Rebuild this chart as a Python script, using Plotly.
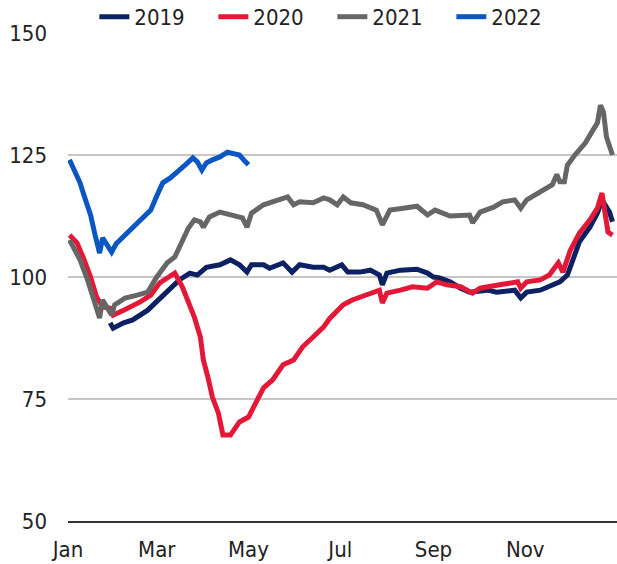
import pandas as pd
import plotly.graph_objects as go

# day-of-year positions and index values
days_2019 = [28, 30, 37, 43, 53, 61, 68, 74, 81, 86, 92, 101, 108, 114, 119, 122, 130, 134, 143, 149, 154, 163, 170, 174, 182, 186, 194, 201, 207, 209, 212, 221, 232, 239, 243, 247, 254, 261, 267, 279, 285, 294, 297, 301, 305, 314, 320, 327, 332, 336, 340, 347, 352, 355, 358, 360, 362]
vals_2019 = [90.6, 89.5, 90.6, 91.2, 93.2, 95.7, 97.7, 99.4, 100.8, 100.4, 102.0, 102.5, 103.5, 102.5, 101.0, 102.5, 102.5, 101.8, 102.9, 101.0, 102.5, 102.0, 102.0, 101.4, 102.5, 101.0, 101.0, 101.4, 100.4, 98.4, 100.8, 101.4, 101.6, 100.8, 100.0, 99.8, 99.0, 97.7, 96.9, 97.3, 96.9, 97.3, 97.3, 95.7, 96.9, 97.3, 98.0, 99.0, 100.4, 104.1, 107.2, 110.2, 113.1, 115.8, 114.3, 113.3, 111.3]

days_2020 = [1, 6, 10, 15, 19, 23, 28, 30, 37, 48, 55, 61, 66, 71, 76, 80, 84, 88, 90, 93, 96, 100, 103, 108, 114, 120, 126, 130, 136, 143, 150, 156, 163, 170, 174, 179, 183, 189, 201, 207, 209, 212, 221, 229, 239, 245, 252, 261, 269, 274, 287, 299, 301, 305, 314, 320, 326, 329, 334, 340, 347, 352, 355, 357, 359, 362]
vals_2020 = [108.6, 107.0, 104.1, 100.0, 95.9, 93.9, 93.6, 92.2, 93.2, 94.9, 96.3, 98.8, 99.8, 100.8, 98.0, 94.7, 91.8, 87.7, 83.0, 79.5, 75.4, 72.1, 67.6, 67.6, 70.3, 71.3, 75.2, 77.3, 78.9, 82.0, 83.0, 85.7, 87.7, 89.8, 91.5, 93.2, 94.3, 95.3, 96.7, 97.3, 94.7, 96.7, 97.3, 98.0, 97.7, 99.0, 98.4, 98.0, 96.7, 97.7, 98.4, 99.0, 97.7, 99.0, 99.4, 100.4, 102.9, 101.0, 105.5, 109.0, 111.7, 114.1, 117.2, 113.1, 109.2, 108.6]

days_2021 = [1, 8, 13, 18, 21, 23, 26, 29, 31, 38, 46, 53, 59, 66, 71, 76, 80, 84, 88, 90, 94, 101, 110, 116, 119, 122, 130, 139, 146, 150, 154, 163, 170, 174, 179, 183, 188, 196, 205, 209, 214, 223, 232, 239, 244, 254, 261, 267, 269, 274, 283, 289, 297, 301, 305, 314, 322, 325, 327, 330, 332, 337, 344, 349, 352, 354, 356, 358, 362]
vals_2021 = [107.6, 103.5, 99.4, 94.7, 91.6, 95.3, 93.6, 92.2, 94.3, 95.7, 96.3, 96.9, 100.0, 102.9, 104.1, 107.2, 110.0, 111.7, 111.3, 110.2, 112.3, 113.3, 112.7, 112.1, 110.2, 113.1, 114.8, 115.8, 116.4, 114.8, 115.4, 115.2, 116.2, 115.8, 114.8, 116.4, 115.2, 114.8, 113.7, 110.7, 113.7, 114.1, 114.5, 112.7, 113.7, 112.5, 112.7, 112.7, 111.1, 113.3, 114.3, 115.4, 115.8, 114.1, 115.8, 117.4, 118.9, 121.0, 119.5, 119.5, 122.9, 125.0, 127.5, 130.1, 131.6, 135.2, 133.8, 128.7, 125.0]

days_2022 = [1, 5, 8, 11, 15, 18, 21, 23, 27, 29, 32, 36, 41, 48, 55, 59, 63, 68, 72, 78, 83, 86, 89, 92, 96, 101, 106, 110, 114, 118, 120]
vals_2022 = [124.0, 121.5, 119.3, 116.4, 112.7, 108.6, 104.9, 108.0, 105.9, 105.1, 106.8, 108.0, 109.6, 111.7, 113.7, 116.6, 119.3, 120.3, 121.3, 123.0, 124.4, 123.6, 121.9, 123.4, 124.0, 124.6, 125.6, 125.2, 125.0, 123.6, 123.0]

series_names = ["2019", "2020", "2021", "2022"]
series_colors = ["#0B2161", "#E31837", "#666666", "#0A56C2"]
y_ticks = [50, 75, 100, 125, 150]

base = pd.Timestamp("2021-01-01")
def to_dates(d):
    return base + pd.to_timedelta(d, unit="D")

FONT = "DejaVu Sans Condensed, Liberation Sans Narrow, sans-serif"

fig = go.Figure()
for name, color, d, v in zip(series_names, series_colors,
                             [days_2019, days_2020, days_2021, days_2022],
                             [vals_2019, vals_2020, vals_2021, vals_2022]):
    fig.add_trace(go.Scatter(x=to_dates(d), y=v, mode="lines", name=name,
                             line=dict(color=color, width=5)))

fig.update_layout(
    width=617, height=564,
    margin=dict(l=68, r=0, t=33, b=43, autoexpand=False),
    paper_bgcolor="white", plot_bgcolor="white",
    font=dict(family=FONT, size=22, color="#222222"),
    showlegend=True,
    legend=dict(orientation="h", x=0.048, xanchor="left", y=1.033, yanchor="middle",
                font=dict(size=22), bgcolor="rgba(0,0,0,0)",
                traceorder="normal", entrywidth=74, entrywidthmode="pixels"),
)
fig.update_xaxes(
    type="date", range=["2021-01-01", "2022-01-01"],
    tickformat="%b", dtick="M2", tick0="2021-01-01",
    showgrid=False, showline=True, linecolor="#333333", linewidth=2,
    ticks="", zeroline=False, ticklabelstandoff=8,
)
fig.update_yaxes(
    range=[50, 150], tickvals=y_ticks,
    showgrid=True, gridcolor="#C6C6C6", gridwidth=2,
    zeroline=False, showline=False, ticks="", ticklabelstandoff=20,
)

fig.write_html("out.html")
